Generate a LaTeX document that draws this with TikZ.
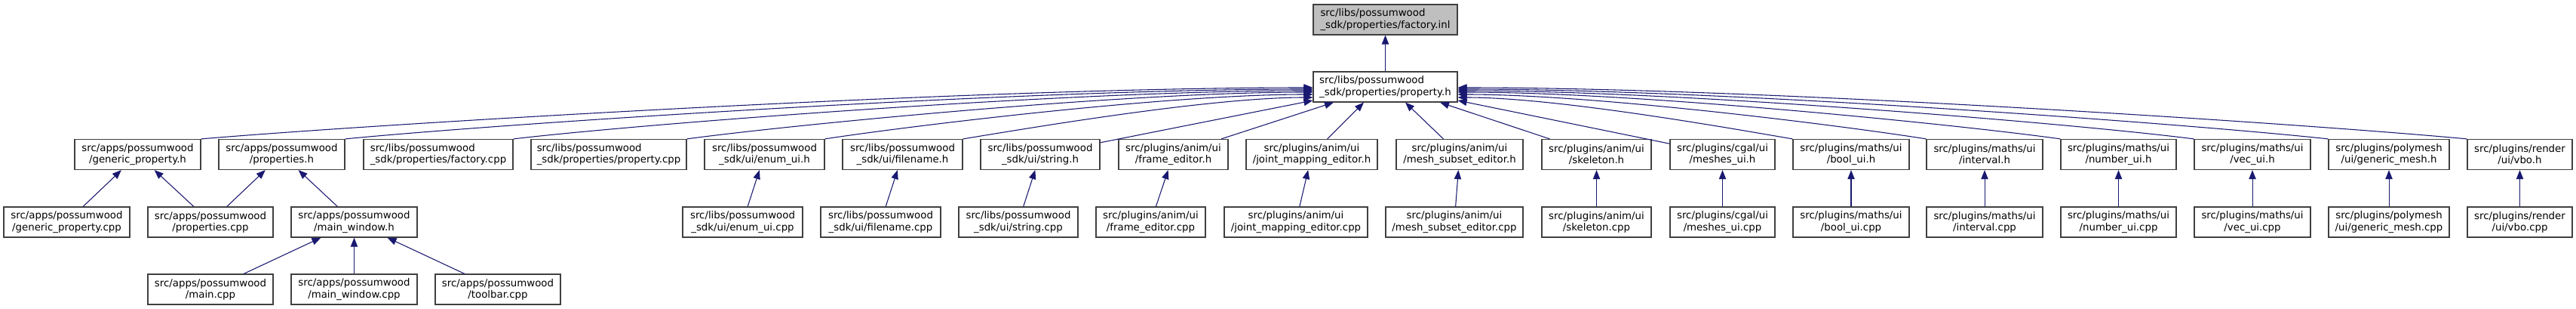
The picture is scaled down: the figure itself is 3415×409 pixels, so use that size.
\documentclass[tikz,border=0pt]{standalone}
\usepackage{fontspec}
\setmainfont{DejaVu Sans}
\usepackage{xcolor}
\usepackage{tikz}
\usetikzlibrary{arrows.meta}
\definecolor{edgeblue}{RGB}{25,25,112}
\definecolor{boxline}{RGB}{64,64,64}
\definecolor{inlgray}{RGB}{191,191,191}

\begin{document}
\begin{tikzpicture}[x=0.75pt, y=-0.75pt, font=\fontsize{10}{11.5}\selectfont,
  b/.style={rectangle, draw=boxline, fill=white, line width=0.9pt,
            minimum height=30pt, inner sep=2pt, align=center},
  bl/.style={b, align=left},
  wd/.style={minimum width=#1*0.75pt},
  a/.style={-{Triangle[length=9pt, width=7pt]}, draw=edgeblue, line width=0.8pt}]
  \useasboundingbox (0,0) rectangle (3415,409);
  \node[bl, wd=191, fill=inlgray] (inl) at (1836.5,26) {src/libs/possumwood\\\_sdk/properties/factory.inl};
  \node[bl, wd=191] (ph) at (1836.5,115) {src/libs/possumwood\\\_sdk/properties/property.h};

  \node[b, wd=167] (gph) at (182.5,204.5) {src/apps/possumwood\\/generic\_property.h};
  \node[b, wd=167] (prh) at (373.5,204.5) {src/apps/possumwood\\/properties.h};
  \node[bl, wd=198] (fcpp) at (581,204.5) {src/libs/possumwood\\\_sdk/properties/factory.cpp};
  \node[bl, wd=206] (pcpp) at (807,204.5) {src/libs/possumwood\\\_sdk/properties/property.cpp};
  \node[b, wd=159] (enh) at (1013.5,204.5) {src/libs/possumwood\\\_sdk/ui/enum\_ui.h};
  \node[b, wd=159] (fnh) at (1196.5,204.5) {src/libs/possumwood\\\_sdk/ui/filename.h};
  \node[b, wd=158] (sth) at (1379,204.5) {src/libs/possumwood\\\_sdk/ui/string.h};
  \node[b, wd=145] (feh) at (1555.5,204.5) {src/plugins/anim/ui\\/frame\_editor.h};
  \node[b, wd=174] (jmh) at (1739,204.5) {src/plugins/anim/ui\\/joint\_mapping\_editor.h};
  \node[b, wd=168] (msh) at (1935,204.5) {src/plugins/anim/ui\\/mesh\_subset\_editor.h};
  \node[b, wd=145] (skh) at (2116.5,204.5) {src/plugins/anim/ui\\/skeleton.h};
  \node[b, wd=139] (mch) at (2283.5,204.5) {src/plugins/cgal/ui\\/meshes\_ui.h};
  \node[b, wd=154] (bh) at (2454,204.5) {src/plugins/maths/ui\\/bool\_ui.h};
  \node[b, wd=154] (ih) at (2631,204.5) {src/plugins/maths/ui\\/interval.h};
  \node[b, wd=153] (nh) at (2808.5,204.5) {src/plugins/maths/ui\\/number\_ui.h};
  \node[b, wd=154] (vh) at (2986,204.5) {src/plugins/maths/ui\\/vec\_ui.h};
  \node[b, wd=160] (gmh) at (3167,204.5) {src/plugins/polymesh\\/ui/generic\_mesh.h};
  \node[b, wd=139] (vboh) at (3340.5,204.5) {src/plugins/render\\/ui/vbo.h};

  \node[b, wd=167] (gpcpp) at (88.5,294) {src/apps/possumwood\\/generic\_property.cpp};
  \node[b, wd=166] (prcpp) at (279,294) {src/apps/possumwood\\/properties.cpp};
  \node[b, wd=167] (mwh) at (469.5,294) {src/apps/possumwood\\/main\_window.h};
  \node[b, wd=159] (encpp) at (984.5,294) {src/libs/possumwood\\\_sdk/ui/enum\_ui.cpp};
  \node[b, wd=159] (fncpp) at (1167.5,294) {src/libs/possumwood\\\_sdk/ui/filename.cpp};
  \node[b, wd=158] (stcpp) at (1350,294) {src/libs/possumwood\\\_sdk/ui/string.cpp};
  \node[b, wd=145] (fecpp) at (1525.5,294) {src/plugins/anim/ui\\/frame\_editor.cpp};
  \node[b, wd=190] (jmcpp) at (1718,294) {src/plugins/anim/ui\\/joint\_mapping\_editor.cpp};
  \node[b, wd=182] (mscpp) at (1928,294) {src/plugins/anim/ui\\/mesh\_subset\_editor.cpp};
  \node[b, wd=145] (skcpp) at (2116.5,294) {src/plugins/anim/ui\\/skeleton.cpp};
  \node[b, wd=139] (mccpp) at (2283.5,294) {src/plugins/cgal/ui\\/meshes\_ui.cpp};
  \node[b, wd=154] (bcpp) at (2454,294) {src/plugins/maths/ui\\/bool\_ui.cpp};
  \node[b, wd=154] (icpp) at (2631,294) {src/plugins/maths/ui\\/interval.cpp};
  \node[b, wd=153] (ncpp) at (2808.5,294) {src/plugins/maths/ui\\/number\_ui.cpp};
  \node[b, wd=154] (vcpp) at (2986,294) {src/plugins/maths/ui\\/vec\_ui.cpp};
  \node[b, wd=160] (gmcpp) at (3167,294) {src/plugins/polymesh\\/ui/generic\_mesh.cpp};
  \node[b, wd=139] (vbocpp) at (3340.5,294) {src/plugins/render\\/ui/vbo.cpp};

  \node[b, wd=166] (maincpp) at (279,383) {src/apps/possumwood\\/main.cpp};
  \node[b, wd=167] (mwcpp) at (469.5,383) {src/apps/possumwood\\/main\_window.cpp};
  \node[b, wd=166] (tbcpp) at (660,383) {src/apps/possumwood\\/toolbar.cpp};

  \draw[a] (ph) -- (inl);
  \draw[a] (gph.north east) .. controls +(236,-20) and +(-443,0) .. ([yshift=-0.75pt]ph.west);
  \draw[a] (prh.north east) .. controls +(205,-20) and +(-385,0) .. ([yshift=-2.25pt]ph.west);
  \draw[a] (fcpp.north east) .. controls +(170,-20) and +(-318,0) .. ([yshift=-3.75pt]ph.west);
  \draw[a] (pcpp.north east) .. controls +(133,-18) and +(-250,0) .. ([yshift=-5.25pt]ph.west);
  \draw[a] (enh.north east) .. controls +(104,-16) and +(-195,0) .. ([yshift=-7.5pt]ph.west);
  \draw[a] (fnh.north east) .. controls +(74,-12) and +(-140,0) .. ([yshift=-10.5pt]ph.west);
  \draw[a] (sth) -- ([yshift=-13.5pt]ph.west);
  \draw[a] (feh) -- ([xshift=-51.4pt]ph.south); \draw[a] (jmh) -- ([xshift=-21.4pt]ph.south);
  \draw[a] (msh) -- ([xshift=19.9pt]ph.south);  \draw[a] (skh) -- ([xshift=54.4pt]ph.south);
  \draw[a] (mch) -- ([yshift=-13.5pt]ph.east);
  \draw[a] (bh.north west) .. controls +(-71,-12) and +(134,0) .. ([yshift=-10.5pt]ph.east);
  \draw[a] (ih.north west) .. controls +(-100,-16) and +(187,0) .. ([yshift=-7.5pt]ph.east);
  \draw[a] (nh.north west) .. controls +(-128,-18) and +(240,0) .. ([yshift=-5.25pt]ph.east);
  \draw[a] (vh.north west) .. controls +(-156,-20) and +(293,0) .. ([yshift=-3.75pt]ph.east);
  \draw[a] (gmh.north west) .. controls +(-185,-20) and +(347,0) .. ([yshift=-2.25pt]ph.east);
  \draw[a] (vboh.north west) .. controls +(-214,-20) and +(402,0) .. ([yshift=-0.75pt]ph.east);

  \draw[a] (gpcpp) -- (gph); \draw[a] (prcpp) -- (gph); \draw[a] (prcpp) -- (prh);
  \draw[a] (mwh) -- (prh);
  \draw[a] (maincpp) -- (mwh); \draw[a] (mwcpp) -- (mwh); \draw[a] (tbcpp) -- (mwh);
  \draw[a] (encpp) -- (enh); \draw[a] (fncpp) -- (fnh); \draw[a] (stcpp) -- (sth);
  \draw[a] (fecpp) -- (feh); \draw[a] (jmcpp) -- (jmh); \draw[a] (mscpp) -- (msh);
  \draw[a] (skcpp) -- (skh); \draw[a] (mccpp) -- (mch); \draw[a] (bcpp) -- (bh);
  \draw[a] (icpp) -- (ih); \draw[a] (ncpp) -- (nh); \draw[a] (vcpp) -- (vh);
  \draw[a] (gmcpp) -- (gmh); \draw[a] (vbocpp) -- (vboh);
\end{tikzpicture}
\end{document}
